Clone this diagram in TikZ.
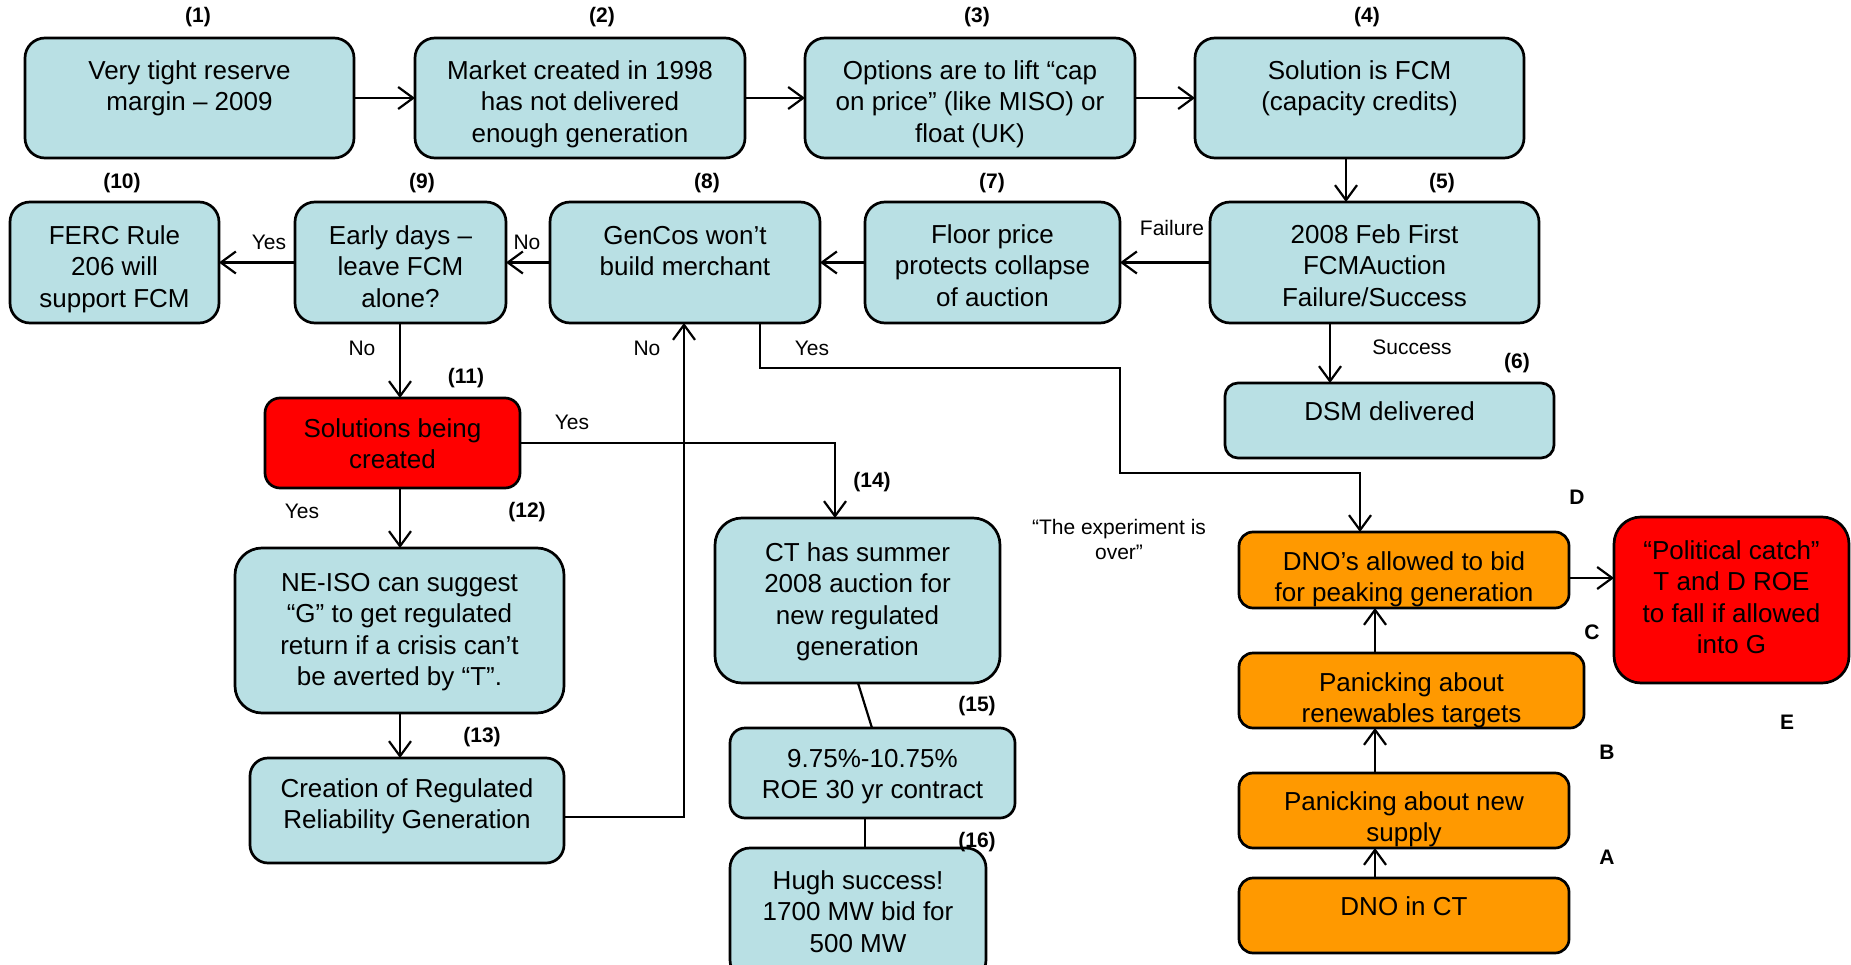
\documentclass[tikz,border=0pt]{standalone}
\usepackage{fontspec}
\setmainfont{Liberation Sans}
\usetikzlibrary{arrows.meta}
\definecolor{lblue}{RGB}{185,224,228}
\definecolor{orng}{RGB}{255,153,0}
\definecolor{rred}{RGB}{255,0,0}
\newcommand\bt[4]{\parbox[c][#2pt][t]{#1pt}{\centering\vspace*{\dimexpr#3pt-2pt\relax}\strut #4\par}}
\tikzset{
  bx/.style={draw=black, line width=2.7pt, inner sep=0pt, outer sep=0pt,
    font=\fontsize{26}{31.5}\selectfont, rounded corners=#1},
  bluebox/.style={bx=#1, fill=lblue},
  orangebox/.style={bx=#1, fill=orng},
  redbox/.style={bx=#1, fill=rred},
  num/.style={font=\fontsize{21}{25}\selectfont\bfseries, inner sep=0pt},
  lbl/.style={font=\fontsize{21}{25}\selectfont, inner sep=0pt},
  conn/.style={line width=2.2pt},
  arr/.style={conn, -{Straight Barb[length=15pt,width=22pt]}},
}
\begin{document}
\begin{tikzpicture}[x=1pt,y=-1pt]
\useasboundingbox (0,0) rectangle (1851,965);
\clip (0,0) rectangle (1851,965);
% row 1
\node[bluebox=20] (b1) at (189.5,98) {\bt{329}{120}{21}{Very tight reserve\\margin – 2009}};
\node[bluebox=20] (b2) at (580,98) {\bt{330}{120}{21}{Market created in 1998\\has not delivered\\enough generation}};
\node[bluebox=20] (b3) at (970,98) {\bt{330}{120}{21}{Options are to lift “cap\\on price” (like MISO) or\\float (UK)}};
\node[bluebox=20] (b4) at (1359.5,98) {\bt{329}{120}{21}{Solution is FCM\\(capacity credits)}};
% row 2
\node[bluebox=20] (b5) at (1374.5,262.5) {\bt{329}{121}{21}{2008 Feb First\\FCMAuction\\Failure/Success}};
\node[bluebox=13] (b6) at (1389.5,420.5) {\bt{329}{75}{17}{DSM delivered}};
\node[bluebox=20] (b7) at (992.5,262.5) {\bt{255}{121}{21}{Floor price\\protects collapse\\of auction}};
\node[bluebox=20] (b8) at (685,262.5) {\bt{270}{121}{22}{GenCos won’t\\build merchant}};
\node[bluebox=20] (b9) at (400.5,262.5) {\bt{211}{121}{22}{Early days –\\leave FCM\\alone?}};
\node[bluebox=20] (b10) at (114.5,262.5) {\bt{209}{121}{22}{FERC Rule\\206 will\\support FCM}};
% left column
\node[redbox=15] (b11) at (392.5,443) {\bt{255}{90}{19}{Solutions being\\created}};
\node[bluebox=27] (b12) at (399.5,630.5) {\bt{329}{165}{23}{NE-ISO can suggest\\“G” to get regulated\\return if a crisis can’t\\be averted by “T”.}};
\node[bluebox=18] (b13) at (407,810.5) {\bt{314}{105}{19}{Creation of Regulated\\Reliability Generation}};
% middle column
\node[bluebox=27] (b14) at (857.5,600.5) {\bt{285}{165}{23}{CT has summer\\2008 auction for\\new regulated\\generation}};
\node[bluebox=15] (b15) at (872.5,773) {\bt{285}{90}{19}{9.75\%-10.75\%\\ROE 30 yr contract}};
\node[bluebox=20] (b16) at (858,914) {\bt{256}{132}{21}{Hugh success!\\1700 MW bid for\\500 MW}};
% right column
\node[orangebox=14] (d4) at (1404,570) {\bt{330}{76}{18}{DNO’s allowed to bid\\for peaking generation}};
\node[orangebox=14] (d3) at (1411.5,690.5) {\bt{345}{75}{18}{Panicking about\\renewables targets}};
\node[orangebox=14] (d2) at (1404,810.5) {\bt{330}{75}{17}{Panicking about new\\supply}};
\node[orangebox=14] (d1) at (1404,915.5) {\bt{330}{75}{17}{DNO in CT}};
\node[redbox=27] (pc) at (1731.5,600) {\bt{235}{166}{22}{“Political catch”\\T and D ROE\\to fall if allowed\\into G}};
% free text
\node[lbl, align=center, font=\fontsize{21}{25}\selectfont] (exp) at (1119,539) {“The experiment is\\over”};
% numbers
\node[num] (n1) at (198,17) {(1)};
\node[num] (n2) at (602,17) {(2)};
\node[num] (n3) at (977,17) {(3)};
\node[num] (n4) at (1367,17) {(4)};
\node[num] (n10) at (122,183) {(10)};
\node[num] (n9) at (422,183) {(9)};
\node[num] (n8) at (707,183) {(8)};
\node[num] (n7) at (992,183) {(7)};
\node[num] (n5) at (1442,183) {(5)};
\node[num] (n6) at (1517,363) {(6)};
\node[num] (n11) at (466,378) {(11)};
\node[num] (n12) at (527,512) {(12)};
\node[num] (n13) at (482,737) {(13)};
\node[num] (n14) at (872,482) {(14)};
\node[num] (n15) at (977,706) {(15)};
\node[num] (n16) at (977,842) {(16)};
\node[num] (lD) at (1577,497) {D};
\node[num] (lC) at (1592,632) {C};
\node[num] (lB) at (1607,752) {B};
\node[num] (lA) at (1607,857) {A};
\node[num] (lE) at (1787,722) {E};
% connector labels
\node[lbl] (tf) at (1172,228) {Failure};
\node[lbl] (ts) at (1412,347) {Success};
\node[lbl] (ty1) at (269,242) {Yes};
\node[lbl] (tn1) at (527,242) {No};
\node[lbl] (tn2) at (362,348) {No};
\node[lbl] (tn3) at (647,348) {No};
\node[lbl] (ty2) at (812,348) {Yes};
\node[lbl] (ty3) at (572,422) {Yes};
\node[lbl] (ty4) at (302,511) {Yes};
% helper coordinates
\coordinate (c45) at (1346,0);
\coordinate (c56) at (1330,0);
\coordinate (c911) at (400,0);
\coordinate (k1) at (684,817);
\coordinate (k2) at (835,443);
\coordinate (k3) at (858,0);
\coordinate (k4) at (872,0);
\coordinate (k5) at (865,0);
\coordinate (k6) at (760,368);
\coordinate (k7) at (1120,473);
\coordinate (k8) at (1360,0);
\coordinate (k9) at (1375,0);
\coordinate (k10) at (0,578);
% connectors
\draw[arr] (b1.east) -- (b2.west);
\draw[arr] (b2.east) -- (b3.west);
\draw[arr] (b3.east) -- (b4.west);
\draw[arr] (b4.south -| c45) -- (b5.north -| c45);
\draw[arr] (b5.west) -- (b7.east);
\draw[arr] (b5.south -| c56) -- (b6.north -| c56);
\draw[arr] (b7.west) -- (b8.east);
\draw[arr] (b8.west) -- (b9.east);
\draw[arr] (b9.west) -- (b10.east);
\draw[arr] (b9.south -| c911) -- (b11.north -| c911);
\draw[arr] (b11.south -| c911) -- (b12.north -| c911);
\draw[arr] (b12.south -| c911) -- (b13.north -| c911);
\draw[arr] (b13.east |- k1) -- (k1) -- (b8.south -| k1);
\draw[arr] (b11.east |- k2) -- (k2) -- (b14.north -| k2);
\draw[conn] (b14.south -| k3) -- (b15.north -| k4);
\draw[conn] (b15.south -| k5) -- (b16.north -| k5);
\draw[arr] (b8.south -| k6) -- (k6) -- (k6 -| k7) -- (k7) -- (k7 -| k8) -- (d4.north -| k8);
\draw[arr] (d1.north -| k9) -- (d2.south -| k9);
\draw[arr] (d2.north -| k9) -- (d3.south -| k9);
\draw[arr] (d3.north -| k9) -- (d4.south -| k9);
\draw[arr] (d4.east |- k10) -- (pc.west |- k10);
\end{tikzpicture}
\end{document}
